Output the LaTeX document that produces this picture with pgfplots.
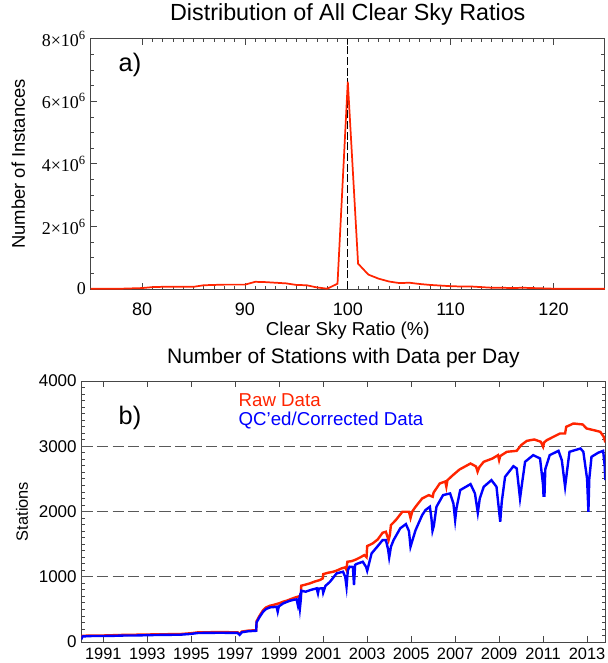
\documentclass[border=0pt]{standalone}
\usepackage{pgfplots}
\pgfplotsset{compat=1.18}
\usepackage{fontspec}
\setmainfont{Liberation Sans}
\newfontfamily\serifticks{Liberation Serif}
\definecolor{rawred}{RGB}{255,36,0}
\definecolor{qcblue}{RGB}{0,0,255}
\definecolor{frame}{RGB}{70,70,70}

\pgfplotsset{
  panel/.style={
    scale only axis, anchor=south west,
    axis line style={frame, line width=0.7pt},
    every tick/.style={frame, line width=0.6pt},
    major tick length=4.5pt, minor tick length=2.6pt,
    xtick pos=both, ytick pos=both,
    xticklabel pos=lower, yticklabel pos=left,
    tick align=inside,
    /pgf/number format/assume math mode=true,
    /pgf/number format/1000 sep={},
  },
}

\begin{document}
\begin{tikzpicture}
\path[use as bounding box] (0pt,0pt) rectangle (455.25pt,-497.25pt);

% a) distribution of clear sky ratios (counts in millions)
\begin{axis}[panel,
  at={(68pt,-216.75pt)}, width=385.7pt, height=187.7pt,
  xmin=75, xmax=125, ymin=0, ymax=8,
  xtick={80,90,100,110,120}, minor x tick num=9,
  ytick={0,2,4,6,8}, minor y tick num=3,
  yticklabels={{\serifticks 0},{\serifticks 2×10\textsuperscript{6}},{\serifticks 4×10\textsuperscript{6}},{\serifticks 6×10\textsuperscript{6}},{\serifticks 8×10\textsuperscript{6}}},
  scaled y ticks=false,
  title={Distribution of All Clear Sky Ratios},
  title style={font=\fontsize{17.5pt}{20pt}\selectfont, anchor=base, at={(0.5,1)}, yshift=7.5pt},
  xlabel={Clear Sky Ratio (\%)},
  xlabel style={font=\fontsize{14pt}{16pt}\selectfont, anchor=base, at={(axis description cs:0.5,0)}, yshift=-34.5pt},
  ylabel={Number of Instances},
  ylabel style={font=\fontsize{13.8pt}{16pt}\selectfont, at={([xshift=-49.25pt]axis description cs:0,0.5)}, anchor=base},
  xticklabel style={font=\fontsize{13.5pt}{16pt}\selectfont, anchor=base, yshift=-19.5pt},
  yticklabel style={font=\fontsize{13.5pt}{16pt}\selectfont},
]
\addplot[black, line width=0.8pt, dash pattern=on 6pt off 2pt] coordinates {(100,0) (100,8)};
\addplot[rawred, line width=1.3pt] coordinates {
(75,0.01) (76,0.01) (77,0.01) (78,0.01) (79,0.02) (80,0.03) (81,0.06) (82,0.07)
(83,0.07) (84,0.07) (85,0.07) (86,0.12) (87,0.13) (88,0.14) (89,0.14) (90,0.14)
(91,0.23) (92,0.22) (93,0.20) (94,0.18) (95,0.13) (96,0.12) (97,0.05) (98,0.01)
(99,0.17) (100,6.63) (101,0.81) (102,0.46) (103,0.33) (104,0.24) (105,0.19) (106,0.20)
(107,0.16) (108,0.13) (109,0.11) (110,0.09) (111,0.08) (112,0.08) (113,0.06) (114,0.04)
(115,0.04) (116,0.03) (117,0.04) (118,0.03) (119,0.02) (120,0.01) (121,0.01) (122,0.01)
(123,0.01) (124,0.01) (125,0.01)
};
\end{axis}

% b) number of stations per day
\begin{axis}[panel,
  at={(61pt,-481.5pt)}, width=393pt, height=195.75pt,
  xmin=1990, xmax=2013.83, ymin=0, ymax=4000,
  xtick={1991,1993,1995,1997,1999,2001,2003,2005,2007,2009,2011,2013},
  xticklabels={1991,1993,1995,1997,1999,2001,2003,2005,2007,2009,2011,2013},
  ytick={0,1000,2000,3000,4000}, minor y tick num=9,
  yticklabels={0,1000,2000,3000,4000},
  title={Number of Stations with Data per Day},
  title style={font=\fontsize{15.75pt}{18pt}\selectfont, anchor=base, at={(0.5,1)}, yshift=7pt},
  ylabel={Stations},
  ylabel style={font=\fontsize{12.3pt}{15pt}\selectfont, at={([xshift=-40.1pt]axis description cs:0,0.5)}, anchor=base},
  xticklabel style={font=\fontsize{12.3pt}{15pt}\selectfont, anchor=base, yshift=-13.4pt},
  yticklabel style={font=\fontsize{12.75pt}{15pt}\selectfont},
]
\addplot[black!65, line width=1pt, dash pattern=on 8.5pt off 3.2pt] coordinates {(1990,1000) (2013.83,1000)};
\addplot[black!65, line width=1pt, dash pattern=on 8.5pt off 3.2pt] coordinates {(1990,2000) (2013.83,2000)};
\addplot[black!65, line width=1pt, dash pattern=on 8.5pt off 3.2pt] coordinates {(1990,3000) (2013.83,3000)};
\addplot[rawred, line width=1.8pt] coordinates {
(1990.00,60) (1990.05,95) (1990.5,100) (1991.0,100) (1991.5,105) (1992.0,110) (1992.5,112)
(1993.0,115) (1993.5,118) (1994.0,120) (1994.5,122) (1995.0,135) (1995.3,148) (1995.8,150)
(1996.3,152) (1996.8,150) (1997.1,150) (1997.2,125) (1997.3,160) (1997.6,175) (1997.95,180)
(1997.97,320) (1998.1,400) (1998.27,490) (1998.4,530) (1998.58,556) (1998.75,570) (1998.88,582)
(1999.05,600) (1999.18,618) (1999.35,635) (1999.49,653) (1999.7,680) (1999.94,704) (1999.98,690)
(2000.0,863) (2000.2,880) (2000.39,898) (2000.6,925) (2000.85,950) (2000.98,975) (2001.0,1040)
(2001.2,1060) (2001.46,1077) (2001.65,1100) (2001.83,1128) (2002.0,1144) (2002.05,1110) (2002.1,1230)
(2002.3,1240) (2002.5,1266) (2002.7,1300) (2002.87,1332) (2002.97,1300) (2003.0,1470) (2003.25,1511)
(2003.48,1572) (2003.7,1674) (2003.85,1690) (2003.97,1560) (2004.03,1640) (2004.08,1792) (2004.3,1868)
(2004.6,1996) (2004.9,1996) (2004.97,1900) (2005.05,2000) (2005.2,2073) (2005.5,2200) (2005.8,2251)
(2005.98,2226) (2006.02,2290) (2006.3,2430) (2006.55,2460) (2006.6,2380) (2006.65,2480) (2006.9,2558)
(2007.2,2644) (2007.45,2690) (2007.7,2736) (2007.95,2690) (2008.02,2610) (2008.1,2680) (2008.3,2762)
(2008.7,2813) (2008.95,2864) (2009.0,2787) (2009.05,2850) (2009.35,2915) (2009.8,2930) (2010.0,3017)
(2010.26,3083) (2010.6,3104) (2010.9,3068) (2011.0,2992) (2011.05,3060) (2011.17,3094) (2011.47,3145)
(2011.77,3196) (2012.0,3196) (2012.05,3298) (2012.38,3349) (2012.8,3334) (2012.98,3272) (2013.3,3247)
(2013.6,3221) (2013.75,3150) (2013.83,3060)
};
\addplot[qcblue, line width=1.8pt] coordinates {
(1990.00,40) (1990.05,85) (1990.5,92) (1991,92) (1991.5,95) (1992,100) (1992.5,100)
(1993,105) (1993.5,108) (1994,110) (1994.5,112) (1995,125) (1995.3,138) (1995.8,140)
(1996.3,142) (1996.8,140) (1997.1,140) (1997.2,110) (1997.3,150) (1997.6,165) (1997.95,172)
(1997.97,300) (1998.1,380) (1998.27,465) (1998.4,505) (1998.58,531) (1998.75,535) (1998.88,541)
(1998.93,465) (1998.98,545) (1999.18,592) (1999.35,615) (1999.49,633) (1999.7,650) (1999.79,653)
(1999.85,560) (1999.9,640) (1999.94,516) (1999.98,650) (2000.0,786) (2000.2,771) (2000.45,800)
(2000.7,822) (2000.76,745) (2000.8,820) (2000.97,822) (2001.0,756) (2001.1,860) (2001.3,920)
(2001.61,1052) (2001.9,1077) (2002.0,1000) (2002.06,847) (2002.12,1100) (2002.2,1154) (2002.35,1150)
(2002.4,873) (2002.45,1180) (2002.5,1194) (2002.8,1230) (2002.95,1150) (2003.0,1092) (2003.2,1358)
(2003.48,1470) (2003.7,1562) (2003.85,1562) (2003.95,1420) (2004.0,1297) (2004.08,1460) (2004.2,1562)
(2004.5,1741) (2004.76,1807) (2004.9,1700) (2004.97,1460) (2005.05,1550) (2005.2,1715) (2005.5,1945)
(2005.65,2022) (2005.85,2073) (2005.92,1900) (2005.97,1705) (2006.03,1780) (2006.15,2073) (2006.45,2251)
(2006.77,2277) (2006.92,2124) (2007.0,1868) (2007.06,2050) (2007.23,2328) (2007.7,2420) (2007.9,2277)
(2008.03,1981) (2008.12,2200) (2008.3,2379) (2008.65,2481) (2008.88,2379) (2009.0,2000) (2009.05,1843)
(2009.12,2150) (2009.27,2532) (2009.65,2695) (2009.8,2660) (2009.95,2200) (2010.05,2450) (2010.18,2762)
(2010.55,2864) (2010.86,2813) (2011.0,2400) (2011.02,2226) (2011.04,2600) (2011.06,2226) (2011.1,2650)
(2011.3,2864) (2011.7,2930) (2011.85,2787) (2012.0,2379) (2012.08,2600) (2012.2,2915) (2012.7,2966)
(2012.83,2915) (2013.0,2500) (2013.06,1996) (2013.1,2500) (2013.2,2838) (2013.5,2900) (2013.73,2930)
(2013.8,2700) (2013.83,2481)
};
\end{axis}

\node[anchor=base west, font=\fontsize{19pt}{22pt}\selectfont] at (85.5pt,-53.5pt) {a)};
\node[anchor=base west, font=\fontsize{19pt}{22pt}\selectfont] at (85.5pt,-318pt) {b)};
\node[anchor=base west, text=rawred, font=\fontsize{14pt}{16pt}\selectfont] at (175.5pt,-304.5pt) {Raw Data};
\node[anchor=base west, text=qcblue, font=\fontsize{14pt}{16pt}\selectfont] at (175.5pt,-318.75pt) {QC’ed/Corrected Data};
\end{tikzpicture}
\end{document}
